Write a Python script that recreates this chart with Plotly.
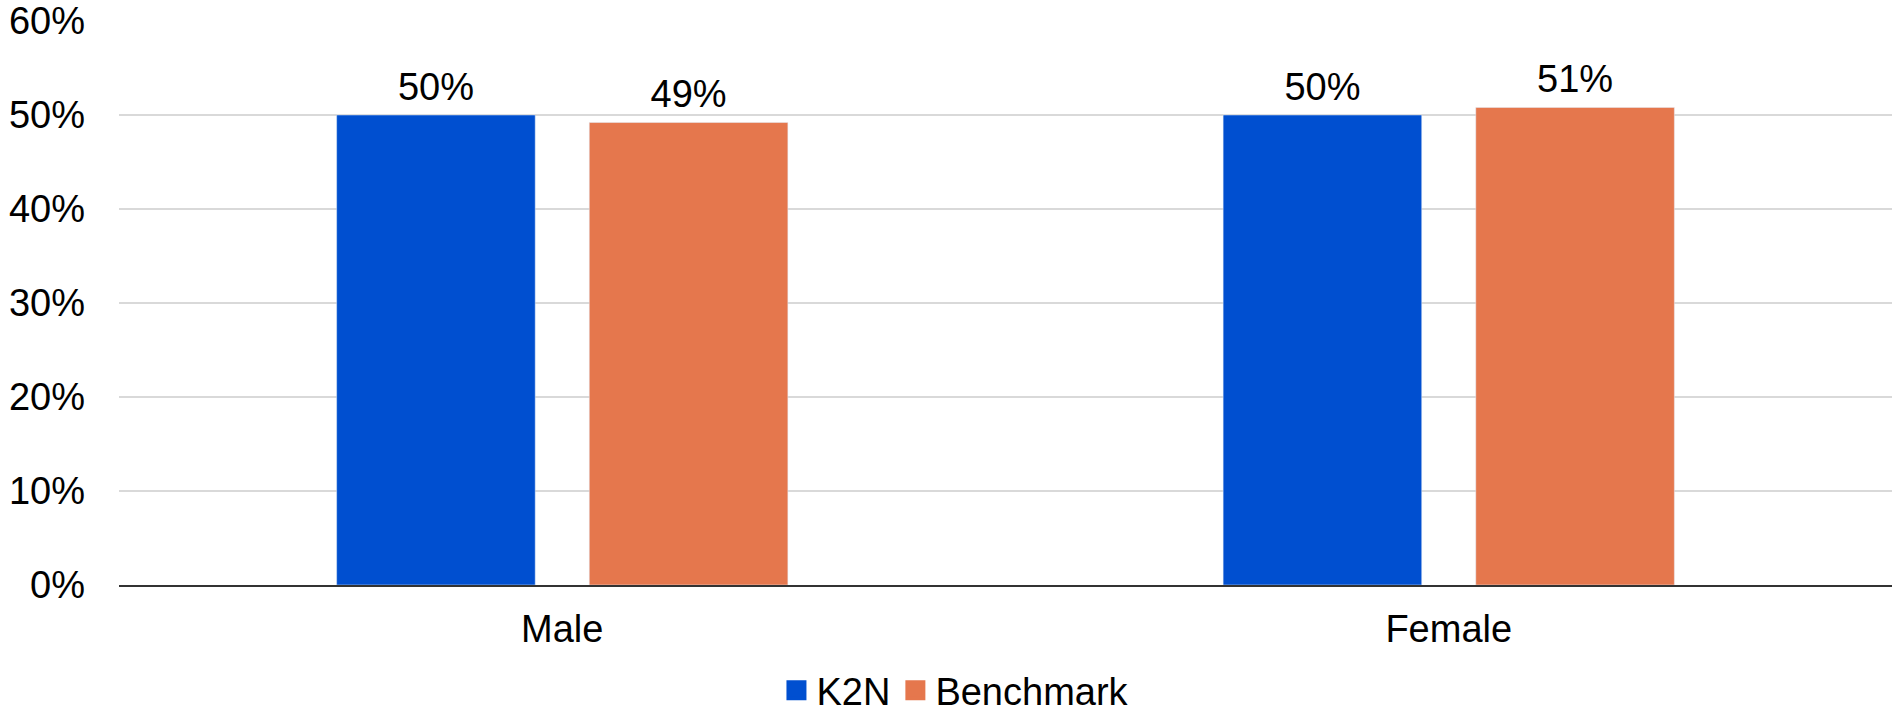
import plotly.graph_objects as go

categories = ["Male", "Female"]
series_names = ["K2N", "Benchmark"]
k2n_values = [0.50, 0.50]
benchmark_values = [0.492, 0.508]
colors = ["#004FD0", "#E5774D"]
y_tick_vals = [0, 0.1, 0.2, 0.3, 0.4, 0.5, 0.6]

FONT = "Liberation Sans, Arial, sans-serif"
FS = 38
BARGAP = 0.43

fig = go.Figure()
series = [k2n_values, benchmark_values]
for name, vals, col in zip(series_names, series, colors):
    fig.add_trace(go.Bar(
        x=categories, y=vals, name=name, marker_color=col,
        offsetgroup=name, showlegend=False, hoverinfo="x+y",
    ))
for name, vals, col in zip(series_names, series, colors):
    fig.add_trace(go.Scatter(
        x=categories, y=vals, mode="markers+text", offsetgroup=name,
        marker=dict(size=8, opacity=0, color=col),
        text=[f"{v:.0%}" for v in vals], textposition="top center",
        textfont=dict(family=FONT, size=FS, color="#000"),
        showlegend=False, hoverinfo="skip", cliponaxis=False,
    ))
for name, col in zip(series_names, colors):
    fig.add_trace(go.Scatter(
        x=[None], y=[None], mode="markers", name=name, offsetgroup=name,
        marker=dict(symbol="square", size=16, color=col,
                    line=dict(color=col, width=4)),
    ))

fig.update_layout(
    width=1892, height=714,
    margin=dict(l=119, r=0, t=21, b=129),
    plot_bgcolor="white", paper_bgcolor="white",
    barmode="group", bargap=BARGAP, bargroupgap=0.214,
    scattermode="group", scattergap=BARGAP,
    font=dict(family=FONT, size=FS, color="#000"),
    legend=dict(orientation="h", xref="container", yref="container",
                x=0.505, xanchor="center", y=0.033, yanchor="middle",
                font=dict(family=FONT, size=FS, color="#000"),
                itemsizing="trace"),
    showlegend=True,
)
fig.update_yaxes(
    range=[0, 0.6], tickvals=y_tick_vals, tickformat=".0%",
    showgrid=True, gridcolor="#D9D9D9", gridwidth=1.5,
    zeroline=False, showline=False, ticks="", ticklabelstandoff=33,
    tickfont=dict(family=FONT, size=FS, color="#000"),
)
fig.update_xaxes(
    showline=True, linecolor="#333", linewidth=1.5,
    ticks="", ticklabelstandoff=10,
    tickfont=dict(family=FONT, size=FS, color="#000"),
)

fig.write_html("out.html")
